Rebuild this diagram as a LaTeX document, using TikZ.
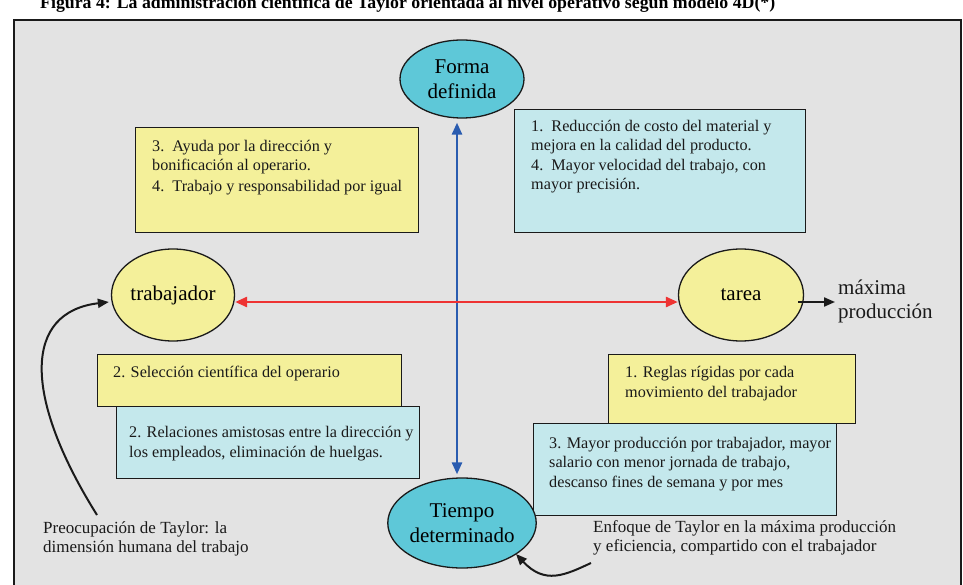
\documentclass[tikz,border=0pt]{standalone}
\usepackage{fontspec}
\setmainfont{Liberation Serif}
\usetikzlibrary{arrows.meta,shapes.geometric}
\definecolor{bg}{HTML}{E3E3E3}
\definecolor{yel}{HTML}{F4F09A}
\definecolor{cyl}{HTML}{C4E8EC}
\definecolor{cyd}{HTML}{5EC8D8}
\definecolor{blu}{HTML}{2A5CB0}
\definecolor{myred}{HTML}{EE3333}
\definecolor{ink}{HTML}{1A1A1A}
\begin{document}
\begin{tikzpicture}[x=1pt,y=-1pt,
  ell/.style={ellipse,draw=ink,line width=1.3pt,inner sep=0pt,align=center,
    font=\fontsize{21}{25}\selectfont},
  boxy/.style={draw=ink,line width=1.3pt,fill=yel,anchor=north west,inner sep=0pt},
  boxc/.style={draw=ink,line width=1.3pt,fill=cyl,anchor=north west,inner sep=0pt},
  txt/.style={anchor=base west,inner sep=0pt,align=left,text=ink,
    font=\fontsize{16.2}{19.5}\selectfont},
  note/.style={anchor=base west,inner sep=0pt,align=left,text=ink,
    font=\fontsize{17}{18.5}\selectfont},
  bigtxt/.style={anchor=base west,inner sep=0pt,align=left,text=ink,
    font=\fontsize{21}{24}\selectfont},
  blueline/.style={blu,line width=2.6pt,{Triangle[length=12pt,width=10pt]}-{Triangle[length=12pt,width=10pt]}},
  redline/.style={myred,line width=2.6pt,{Triangle[length=12pt,width=10pt]}-{Triangle[length=12pt,width=10pt]}},
  blackline/.style={ink,line width=2pt,-{Triangle[length=11pt,width=9pt]}}
]
\useasboundingbox (0,0) rectangle (963,585);
\clip (0,0) rectangle (963,585);
\fill[white] (0,0) rectangle (963,585);
% title (cut off at the top, as in the reference)
\node[anchor=base west,inner sep=0pt,font=\bfseries\fontsize{17.8}{17.8}\selectfont] (title) at (40,9)
  {Figura 4: La administración científica de Taylor orientada al nivel operativo según modelo 4D(*)};
% frame
\draw[fill=bg,line width=1.3pt,draw=ink] (14,20) rectangle (961,600);

% boxes (text nodes are anchored at the baseline of their last line)
\node[boxy,minimum width=283,minimum height=105] (b1) at (135,127) {};
\node[txt] (t1) at (152,192) {3.~~Ayuda por la dirección y\\bonificación al operario.\\[1.5pt]4.~~Trabajo y responsabilidad por igual};

\node[boxc,minimum width=291,minimum height=123] (b2) at (514,109) {};
\node[txt] (t2) at (531,190) {1.~~Reducción de costo del material y\\mejora en la calidad del producto.\\4.~~Mayor velocidad del trabajo, con\\mayor precisión.};

\node[boxy,minimum width=304,minimum height=52] (b3) at (97,354) {};
\node[txt] (t3) at (113,377) {2. Selección científica del operario};

\node[boxc,minimum width=303,minimum height=72] (b4) at (116,406) {};
\node[txt] (t4) at (129,457) {2. Relaciones amistosas entre la dirección y\\los empleados, eliminación de huelgas.};

\node[boxy,minimum width=247,minimum height=69] (b5) at (608,354) {};
\node[txt] (t5) at (625,397) {1. Reglas rígidas por cada\\movimiento del trabajador};

\node[boxc,minimum width=303,minimum height=92] (b6) at (533,423) {};
\node[txt] (t6) at (549,487) {3. Mayor producción por trabajador, mayor\\salario con menor jornada de trabajo,\\descanso fines de semana y por mes};

% ellipses
\node[ell,fill=cyd,minimum width=124,minimum height=78] (forma) at (462,79) {Forma\\definida};
\node[ell,fill=cyd,minimum width=124,minimum height=90] (tiempo) at (462,523) {Tiempo\\determinado};
\node[ell,fill=yel,minimum width=123,minimum height=92] (trab) at (173,295) {trabajador};
\node[ell,fill=yel,minimum width=125,minimum height=92] (tarea) at (741,295) {tarea};

% axes
\draw[blueline] ([xshift=-5pt,yshift=-4pt]forma.south) -- ([xshift=-5pt,yshift=3pt]tiempo.north);
\draw[redline] ([yshift=-7pt]trab.east) -- ([yshift=-7pt]tarea.west);

% maxima produccion
\node[bigtxt] (maxp) at (838,318) {máxima\\producción};
\coordinate (mend) at (835,302);
\draw[blackline] ([xshift=-6pt,yshift=-7pt]tarea.east) -- (mend);

% annotations
\node[note] (pre) at (43,552) {Preocupación de Taylor: la\\dimensión humana del trabajo};
\coordinate (pstart) at (97,515);
\draw[blackline] (pstart) .. controls (22,395) and (24,312) .. ([xshift=-2pt,yshift=-7pt]trab.west);

\node[note] (enf) at (593,551) {Enfoque de Taylor en la máxima producción\\y eficiencia, compartido con el trabajador};
\coordinate (estart) at (591,563);
\coordinate (eend) at (516,554);
\draw[blackline] (estart) .. controls (565,575) and (545,585) .. (eend);
\end{tikzpicture}
\end{document}
